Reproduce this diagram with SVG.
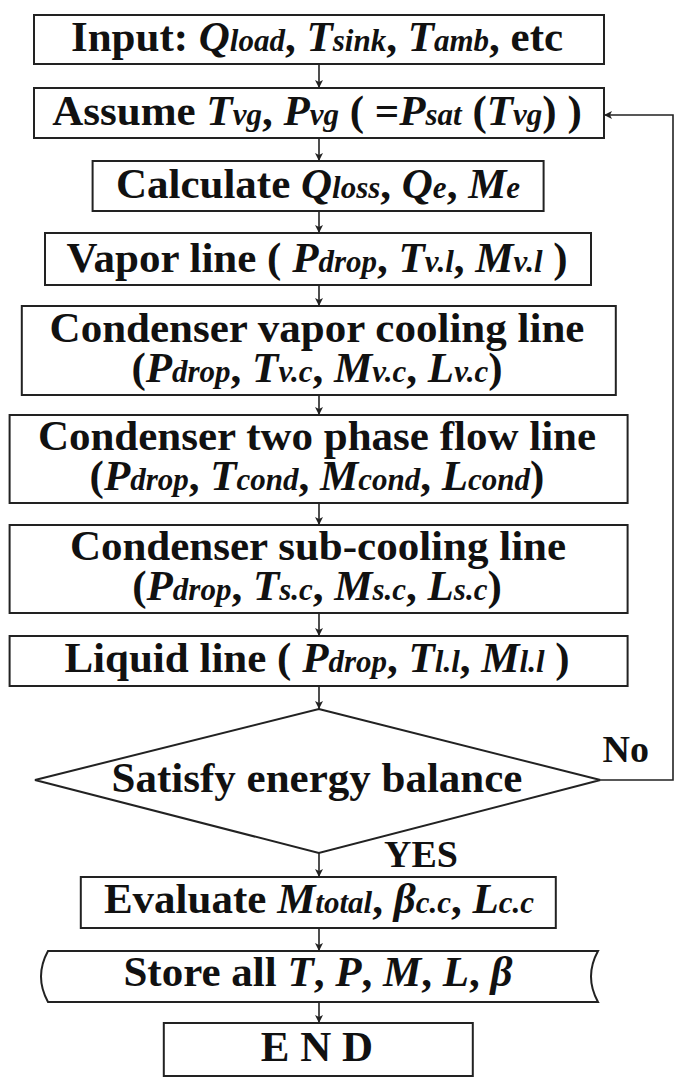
<svg xmlns="http://www.w3.org/2000/svg" width="685" height="1084" viewBox="0 0 685 1084">
<style>
.b{fill:#fff;stroke:#222;stroke-width:2}
.t{font-family:"Liberation Serif","Times New Roman",serif;font-weight:bold;font-size:43px;fill:#111;text-anchor:middle}
.l{font-family:"Liberation Serif","Times New Roman",serif;font-weight:bold;font-size:38px;fill:#111}
.v{font-style:italic}
.s{font-style:italic;font-size:31px}
.c{fill:none;stroke:#222;stroke-width:1.6}
</style>
<defs>
<marker id="ah" markerUnits="userSpaceOnUse" markerWidth="10" markerHeight="10" refX="8" refY="4" orient="auto">
<path d="M0,0 L8,4 L0,8 L2,4 Z" fill="#222"/>
</marker>
</defs>
<rect width="685" height="1084" fill="#fff"/>
<g id="connectors">
<line class="c" x1="319" y1="64" x2="319" y2="88" marker-end="url(#ah)"/>
<line class="c" x1="319" y1="138" x2="319" y2="161" marker-end="url(#ah)"/>
<line class="c" x1="319" y1="211" x2="319" y2="233" marker-end="url(#ah)"/>
<line class="c" x1="319" y1="285" x2="319" y2="306" marker-end="url(#ah)"/>
<line class="c" x1="319" y1="395" x2="319" y2="415" marker-end="url(#ah)"/>
<line class="c" x1="319" y1="503" x2="319" y2="525" marker-end="url(#ah)"/>
<line class="c" x1="319" y1="613" x2="319" y2="636" marker-end="url(#ah)"/>
<line class="c" x1="319" y1="686" x2="319" y2="709" marker-end="url(#ah)"/>
<line class="c" x1="319" y1="853" x2="319" y2="877" marker-end="url(#ah)"/>
<line class="c" x1="319" y1="928" x2="319" y2="951" marker-end="url(#ah)"/>
<line class="c" x1="319" y1="1002" x2="319" y2="1023" marker-end="url(#ah)"/>
<path class="c" d="M600.4,780 H673 V115 H604" marker-end="url(#ah)"/>
<text class="l" x="602.6" y="762">No</text>
<text class="l" x="384" y="867">YES</text>
</g>
<g id="input">
<rect class="b" x="34" y="15" width="570" height="49"/>
<text class="t" x="317" y="51">Input: <tspan class="v">Q</tspan><tspan class="s">load</tspan>, <tspan class="v">T</tspan><tspan class="s">sink</tspan>, <tspan class="v">T</tspan><tspan class="s">amb</tspan>, etc</text>
</g>
<g id="assume">
<rect class="b" x="34" y="88" width="570" height="50"/>
<text class="t" x="317" y="125">Assume <tspan class="v">T</tspan><tspan class="s">vg</tspan>, <tspan class="v">P</tspan><tspan class="s">vg</tspan> ( =<tspan class="v">P</tspan><tspan class="s">sat</tspan> (<tspan class="v">T</tspan><tspan class="s">vg</tspan>) )</text>
</g>
<g id="calculate">
<rect class="b" x="92.6" y="161" width="451" height="50"/>
<text class="t" x="318" y="198">Calculate <tspan class="v">Q</tspan><tspan class="s">loss</tspan>, <tspan class="v">Q</tspan><tspan class="s">e</tspan>, <tspan class="v">M</tspan><tspan class="s">e</tspan></text>
</g>
<g id="vapor-line">
<rect class="b" x="45" y="233" width="546" height="52"/>
<text class="t" x="317" y="272">Vapor line ( <tspan class="v">P</tspan><tspan class="s">drop</tspan>, <tspan class="v">T</tspan><tspan class="s">v.l</tspan>, <tspan class="v">M</tspan><tspan class="s">v.l</tspan> )</text>
</g>
<g id="cond-vapor">
<rect class="b" x="21.8" y="306" width="594" height="89"/>
<text class="t" x="317" y="342">Condenser vapor cooling line</text>
<text class="t" x="317" y="382">(<tspan class="v">P</tspan><tspan class="s">drop</tspan>, <tspan class="v">T</tspan><tspan class="s">v.c</tspan>, <tspan class="v">M</tspan><tspan class="s">v.c</tspan>, <tspan class="v">L</tspan><tspan class="s">v.c</tspan>)</text>
</g>
<g id="cond-two-phase">
<rect class="b" x="9.6" y="415" width="618" height="88"/>
<text class="t" x="317" y="450">Condenser two phase flow line</text>
<text class="t" x="317" y="490">(<tspan class="v">P</tspan><tspan class="s">drop</tspan>, <tspan class="v">T</tspan><tspan class="s">cond</tspan>, <tspan class="v">M</tspan><tspan class="s">cond</tspan>, <tspan class="v">L</tspan><tspan class="s">cond</tspan>)</text>
</g>
<g id="cond-sub-cooling">
<rect class="b" x="9.6" y="525" width="618" height="88"/>
<text class="t" x="318" y="560">Condenser sub-cooling line</text>
<text class="t" x="317" y="600">(<tspan class="v">P</tspan><tspan class="s">drop</tspan>, <tspan class="v">T</tspan><tspan class="s">s.c</tspan>, <tspan class="v">M</tspan><tspan class="s">s.c</tspan>, <tspan class="v">L</tspan><tspan class="s">s.c</tspan>)</text>
</g>
<g id="liquid-line">
<rect class="b" x="9.6" y="636" width="618" height="50"/>
<text class="t" x="317" y="672">Liquid line ( <tspan class="v">P</tspan><tspan class="s">drop</tspan>, <tspan class="v">T</tspan><tspan class="s">l.l</tspan>, <tspan class="v">M</tspan><tspan class="s">l.l</tspan> )</text>
</g>
<g id="decision">
<polygon class="b" points="318.8,709 600.4,780 318.8,853 35,780"/>
<text class="t" x="317" y="792">Satisfy energy balance</text>
</g>
<g id="evaluate">
<rect class="b" x="80.8" y="877" width="475" height="51"/>
<text class="t" x="319" y="913">Evaluate <tspan class="v">M</tspan><tspan class="s">total</tspan>, <tspan class="v">β</tspan><tspan class="s">c.c</tspan>, <tspan class="v">L</tspan><tspan class="s">c.c</tspan></text>
</g>
<g id="store">
<path class="b" d="M48,951 H598 Q584,976.5 598,1002 H48 Q34,976.5 48,951 Z"/>
<text class="t" x="318" y="986">Store all <tspan class="v">T</tspan>, <tspan class="v">P</tspan>, <tspan class="v">M</tspan>, <tspan class="v">L</tspan>, <tspan class="v">β</tspan></text>
</g>
<g id="end">
<rect class="b" x="163.8" y="1023" width="309" height="53"/>
<text class="t" x="317" y="1061">E N D</text>
</g>
</svg>
